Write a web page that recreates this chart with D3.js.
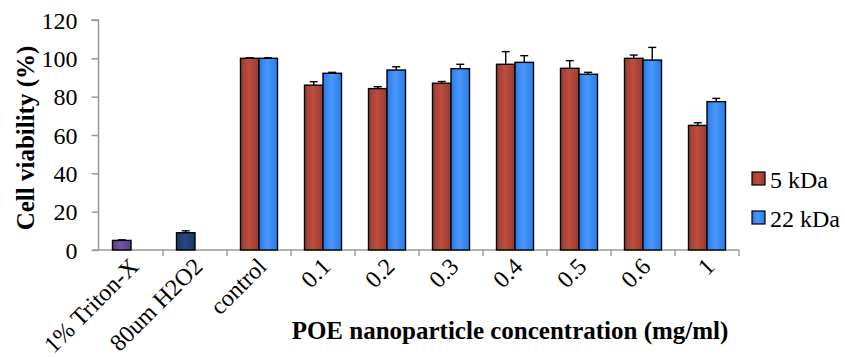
<!DOCTYPE html>
<html>
<head>
<meta charset="utf-8">
<script src="https://cdn.jsdelivr.net/npm/d3@7"></script>
</head>
<body style="margin:0">
<div id="chart"></div>
<script>
// data
const categories = ["1% Triton-X", "80um H2O2", "control", "0.1", "0.2", "0.3", "0.4", "0.5", "0.6", "1"];
const kda5 = [5, 9, 100, 86, 84.2, 87, 96.9, 94.8, 100, 65];
const kda5Err = [0.3, 1, 0.3, 1.8, 1, 0.9, 6.6, 4, 1.7, 1.4];
const kda22 = [null, null, 100, 92.2, 93.9, 94.6, 97.9, 91.7, 99.1, 77.4];
const kda22Err = [null, null, 0.3, 0.5, 1.7, 2.3, 3.5, 1, 6.6, 1.7];
const yTicks = [0, 20, 40, 60, 80, 100, 120];
const seriesNames = ["5 kDa", "22 kDa"];

// the two control samples get their own colours in the first slot
const specialFill = { "1% Triton-X": "url(#gPurple)", "80um H2O2": "url(#gNavy)" };

const W = 845, H = 357;
const FONT = "Liberation Serif";
const svg = d3.select("#chart").append("svg")
  .attr("width", W).attr("height", H)
  .attr("font-family", FONT);

// gradients (darker at the bar edges)
const defs = svg.append("defs");
function grad(id, edge, mid) {
  const g = defs.append("linearGradient").attr("id", id)
    .attr("x1", "0%").attr("x2", "100%").attr("y1", "0%").attr("y2", "0%");
  g.append("stop").attr("offset", "0%").attr("stop-color", edge);
  g.append("stop").attr("offset", "45%").attr("stop-color", mid);
  g.append("stop").attr("offset", "100%").attr("stop-color", edge);
}
grad("gRed", "#9c3a2f", "#bb4d40");
grad("gBlue", "#2a7ae8", "#4a98fb");
grad("gPurple", "#5a3f8a", "#7354a6");
grad("gNavy", "#173a66", "#24497f");

const x = d3.scaleBand().domain(categories).range([99, 739]);
const y = d3.scaleLinear().domain([0, 120]).range([250, 20]);
const bw = 18.5;

// axes
const yAxis = svg.append("g")
  .attr("transform", "translate(98.5,0)")
  .call(d3.axisLeft(y).tickValues(yTicks).tickSize(7).tickPadding(14));
yAxis.attr("font-family", FONT).attr("font-size", 24);
yAxis.selectAll("text")
  .attr("font-family", FONT).attr("font-size", 24)
  .attr("fill", "#000").attr("dy", "0.34em");

const xAxis = svg.append("g")
  .attr("transform", "translate(0,250)")
  .call(d3.axisBottom(x).tickSize(0).tickFormat(""));
// ticks at category boundaries
xAxis.selectAll(".bnd")
  .data(categories.map(c => x(c) + x.bandwidth()))
  .join("line")
  .attr("class", "bnd")
  .attr("x1", d => d).attr("x2", d => d)
  .attr("y1", 0).attr("y2", 6);

svg.selectAll(".domain, .tick line, .bnd")
  .attr("stroke", "#9a9a9a").attr("stroke-width", 1.5);
xAxis.select(".domain").attr("d", "M93,0H739.5");
yAxis.select(".domain").attr("d", "M-7,20H0V250");

// category labels
svg.append("g").selectAll("text")
  .data(categories)
  .join("text")
  .attr("transform", d => `translate(${x(d) + x.bandwidth() / 2 + 9},${268}) rotate(-45)`)
  .attr("text-anchor", "end")
  .attr("font-family", FONT).attr("font-size", 24)
  .text(d => d);

// bars
const bars = svg.append("g").attr("stroke", "#000").attr("stroke-width", 1.4);
bars.selectAll(".b5")
  .data(categories.map((c, i) => ({ c, v: kda5[i] })))
  .join("rect")
  .attr("x", d => x(d.c) + x.bandwidth() / 2 - bw)
  .attr("width", bw)
  .attr("y", d => y(d.v))
  .attr("height", d => y(0) - y(d.v))
  .attr("fill", d => specialFill[d.c] || "url(#gRed)");
bars.selectAll(".b22")
  .data(categories.map((c, i) => ({ c, v: kda22[i] })).filter(d => d.v != null))
  .join("rect")
  .attr("x", d => x(d.c) + x.bandwidth() / 2)
  .attr("width", bw)
  .attr("y", d => y(d.v))
  .attr("height", d => y(0) - y(d.v))
  .attr("fill", "url(#gBlue)");

// error bars (plus side only)
const errs = [];
categories.forEach((c, i) => {
  errs.push({ cx: x(c) + x.bandwidth() / 2 - bw / 2, v: kda5[i], e: kda5Err[i] });
  if (kda22[i] != null) errs.push({ cx: x(c) + x.bandwidth() / 2 + bw / 2, v: kda22[i], e: kda22Err[i] });
});
const eg = svg.append("g").attr("stroke", "#000").attr("stroke-width", 1.4);
eg.selectAll(".ev").data(errs).join("line")
  .attr("x1", d => d.cx).attr("x2", d => d.cx)
  .attr("y1", d => y(d.v)).attr("y2", d => y(d.v + d.e));
eg.selectAll(".ec").data(errs).join("line")
  .attr("x1", d => d.cx - 4).attr("x2", d => d.cx + 4)
  .attr("y1", d => y(d.v + d.e)).attr("y2", d => y(d.v + d.e));

// axis titles
svg.append("text")
  .attr("transform", "translate(34,138) rotate(-90)")
  .attr("text-anchor", "middle")
  .attr("font-family", FONT).attr("font-size", 25).attr("font-weight", "bold")
  .text("Cell viability (%)");
svg.append("text")
  .attr("x", 510).attr("y", 339)
  .attr("text-anchor", "middle")
  .attr("font-family", FONT).attr("font-size", 25).attr("font-weight", "bold")
  .text("POE nanoparticle concentration (mg/ml)");

// legend
const lg = svg.append("g").selectAll("g")
  .data(seriesNames)
  .join("g")
  .attr("transform", (d, i) => `translate(752,${172 + i * 39})`);
lg.append("rect")
  .attr("width", 13).attr("height", 13)
  .attr("fill", (d, i) => i === 0 ? "url(#gRed)" : "url(#gBlue)")
  .attr("stroke", "#000").attr("stroke-width", 1.2);
lg.append("text")
  .attr("x", 18).attr("y", 16)
  .attr("font-family", FONT).attr("font-size", 24)
  .text(d => d);
</script>
</body>
</html>
